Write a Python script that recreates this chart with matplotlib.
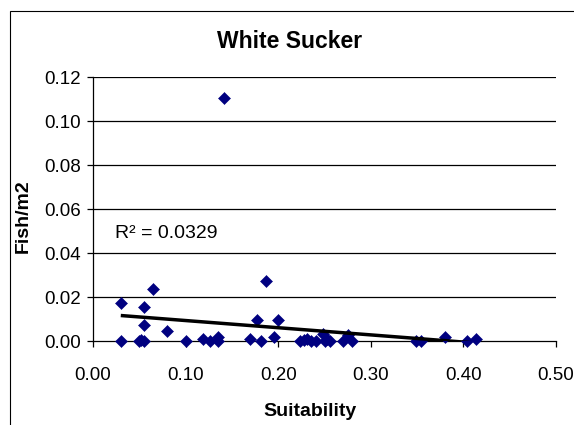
import numpy as np
import matplotlib
matplotlib.use("Agg")
import matplotlib.pyplot as plt
from matplotlib.patches import Rectangle

plt.rcParams['font.family'] = ['Liberation Sans', 'DejaVu Sans']

suitability = [0.030, 0.030, 0.050, 0.052, 0.055, 0.055, 0.055, 0.065, 0.080, 0.100,
               0.119, 0.126, 0.135, 0.135, 0.141, 0.170, 0.177, 0.181, 0.187, 0.196,
               0.200, 0.224, 0.228, 0.231, 0.235, 0.241, 0.248, 0.250, 0.253, 0.256,
               0.270, 0.275, 0.280, 0.349, 0.354, 0.380, 0.404, 0.414]
fish_m2 = [0.0172, 0.0000, 0.0000, 0.0003, 0.0000, 0.0154, 0.0073, 0.0237, 0.0046, 0.0000,
           0.0008, 0.0000, 0.0017, 0.0000, 0.1105, 0.0008, 0.0095, 0.0000, 0.0272, 0.0020,
           0.0095, 0.0000, 0.0005, 0.0010, 0.0000, 0.0000, 0.0030, 0.0000, 0.0010, 0.0000,
           0.0000, 0.0027, 0.0000, 0.0000, 0.0000, 0.0020, 0.0000, 0.0008]
x_ticks = [0.0, 0.1, 0.2, 0.3, 0.4, 0.5]
y_ticks = [0.00, 0.02, 0.04, 0.06, 0.08, 0.10, 0.12]
title = "White Sucker"
x_label = "Suitability"
y_label = "Fish/m2"
r2_text = "R² = 0.0329"

W, H = 574, 425
fig = plt.figure(figsize=(W / 100, H / 100), dpi=100)
fig.patch.set_facecolor('white')

# outer chart-area border (extends past right/bottom edges)
fig.add_artist(Rectangle((10 / W, -0.05), 1.2, 1 - 11 / H + 0.05, transform=fig.transFigure,
                         fill=False, edgecolor='black', linewidth=0.8))

ax = fig.add_axes([93 / W, 1 - 341 / H, 463 / W, 264 / H])
ax.set_xlim(0, 0.5)
ax.set_ylim(0, 0.12)

for s in ['top', 'right']:
    ax.spines[s].set_visible(False)
for s in ['left', 'bottom']:
    ax.spines[s].set_linewidth(0.9)
    ax.spines[s].set_color('black')

ax.set_xticks(x_ticks)
ax.set_xticklabels([f"{v:.2f}" for v in x_ticks])
ax.set_yticks(y_ticks)
ax.set_yticklabels([f"{v:.2f}" for v in y_ticks])
ax.tick_params(axis='x', direction='out', length=4, width=0.9, pad=15, labelsize=13.5)
ax.tick_params(axis='y', direction='out', length=4.5, width=0.9, pad=4, labelsize=13.5)

for yv in y_ticks[1:]:
    ax.axhline(yv, color='black', linewidth=0.9, zorder=1)

ax.plot(suitability, fish_m2, linestyle='none', marker='D', markersize=6.5,
        markerfacecolor='#000080', markeredgecolor='#000080', markeredgewidth=0.4,
        zorder=3, clip_on=False)

# linear trend line
xs = np.array(suitability)
ys = np.array(fish_m2)
slope, intercept = np.polyfit(xs, ys, 1)
xl = np.array([xs.min(), xs.max()])
ax.plot(xl, slope * xl + intercept, color='black', linewidth=2.5, zorder=4,
        solid_capstyle='butt')

ax.text(115 / W, 1 - 233 / H, r2_text, transform=fig.transFigure, fontsize=14,
        ha='left', va='center')

fig.text(290 / W, 1 - 42 / H, title, fontsize=16.5, fontweight='bold', ha='center', va='center')
fig.text(310 / W, 1 - 411 / H, x_label, fontsize=14, fontweight='bold', ha='center', va='center')
fig.text(23 / W, 1 - 216 / H, y_label, fontsize=14, fontweight='bold', ha='center', va='center',
         rotation=90)

fig.savefig("out.png", dpi=100)
